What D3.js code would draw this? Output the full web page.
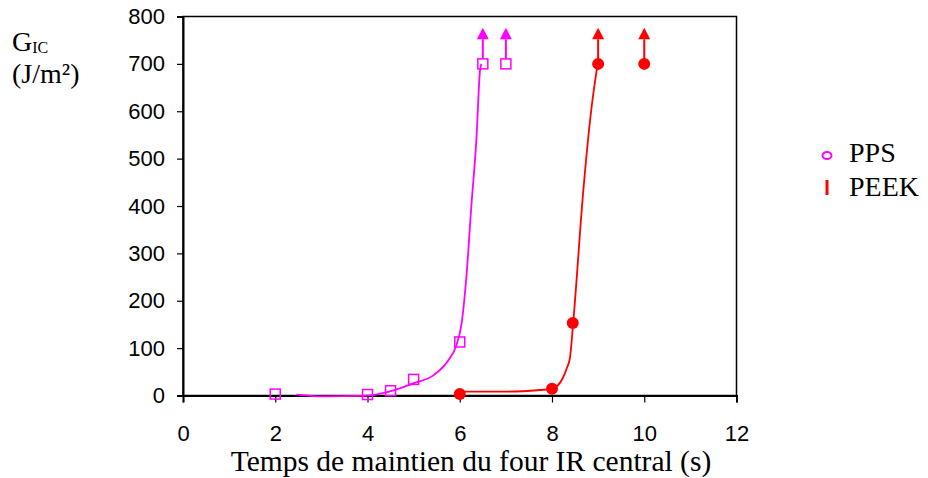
<!DOCTYPE html>
<html><head><meta charset="utf-8">
<script src="https://cdn.jsdelivr.net/npm/d3@7"></script>
<style>body{margin:0;background:#fff}svg{display:block}</style>
</head><body>
<svg id="c" width="928" height="478"></svg>
<script>
// ---- data ----
const xTicks = [0, 2, 4, 6, 8, 10, 12];
const yTicks = [0, 100, 200, 300, 400, 500, 600, 700, 800];
const ppsX = [2, 4, 4.5, 5, 6, 6.5, 7];
const ppsY = [3, 2, 10, 34, 113, 700, 700];
const peekX = [6, 8, 8.45, 9, 10];
const peekY = [3, 14, 153, 700, 700];
const ppsArrowX = [6.5, 7];
const peekArrowX = [9, 10];
const arrowFrom = 700, arrowBase = 752, arrowTip = 776;
const ppsTrendX = [2.46, 3.1, 3.8, 4.12, 4.56, 5.0, 5.42, 5.78, 5.92, 6.04, 6.15, 6.25, 6.36, 6.44, 6.47];
const ppsTrendY = [2, -2, -1, 1, 11, 26, 42, 78, 104, 152, 258, 398, 539, 687, 700];
const peekTrendX = [6, 7, 7.74, 8, 8.24, 8.33, 8.39, 8.46, 8.68, 8.86, 8.99];
const peekTrendY = [8, 8, 11.6, 14, 38, 60, 80, 154, 434, 610, 700];
const seriesNames = ["PPS", "PEEK"];

const MAG = "#ff00ff", RED = "#ff0000";
const svg = d3.select("#c");
const x = d3.scaleLinear().domain([0, 12]).range([183, 736.5]);
const y = d3.scaleLinear().domain([0, 800]).range([395.5, 16.5]);

// frame
svg.append("rect").attr("x", x(0)).attr("y", y(800)).attr("width", x(12) - x(0)).attr("height", y(0) - y(800))
  .attr("fill", "none").attr("stroke", "#000").attr("stroke-width", 1.5);

// axes
const yAxis = svg.append("g").attr("transform", `translate(${x(0)},0)`)
  .call(d3.axisLeft(y).tickValues(yTicks).tickSize(6).tickPadding(12).tickFormat(d3.format("d")));
const xAxis = svg.append("g").attr("transform", `translate(0,${y(0)})`)
  .call(d3.axisBottom(x).tickValues(xTicks).tickSize(7).tickPadding(23).tickFormat(d3.format("d")));
[yAxis, xAxis].forEach(g => {
  g.select(".domain").attr("stroke", "#000").attr("stroke-width", 2);
  g.selectAll(".tick line").attr("stroke", "#000").attr("stroke-width", 1.2);
  g.selectAll("text").attr("font-family", "Liberation Sans, Arial, sans-serif").attr("font-size", 22).attr("fill", "#000");
});

// trend curves
const line = d3.line().x(d => x(d[0])).y(d => y(d[1])).curve(d3.curveMonotoneX);
svg.append("path").datum(ppsTrendX.map((v, i) => [v, ppsTrendY[i]]))
  .attr("d", line).attr("fill", "none").attr("stroke", MAG).attr("stroke-width", 1.8);
svg.append("path").datum(peekTrendX.map((v, i) => [v, peekTrendY[i]]))
  .attr("d", line).attr("fill", "none").attr("stroke", RED).attr("stroke-width", 1.8);

// arrows
function arrows(xs, color, gap) {
  const g = svg.append("g");
  g.selectAll("line").data(xs).join("line")
    .attr("x1", d => x(d)).attr("x2", d => x(d))
    .attr("y1", y(arrowFrom) - gap).attr("y2", y(arrowBase))
    .attr("stroke", color).attr("stroke-width", 2);
  g.selectAll("path").data(xs).join("path")
    .attr("d", d => `M${x(d)},${y(arrowTip)}L${x(d) + 6},${y(arrowBase)}L${x(d) - 6},${y(arrowBase)}Z`)
    .attr("fill", color);
}
arrows(ppsArrowX, MAG, 5);
arrows(peekArrowX, RED, 4);

// markers
svg.append("g").selectAll("rect").data(ppsX.map((v, i) => [v, ppsY[i]])).join("rect")
  .attr("x", d => x(d[0]) - 5).attr("y", d => y(d[1]) - 5).attr("width", 10).attr("height", 10)
  .attr("fill", "#fff").attr("fill-opacity", 0).attr("stroke", MAG).attr("stroke-width", 1.5);
svg.append("g").selectAll("circle").data(peekX.map((v, i) => [v, peekY[i]])).join("circle")
  .attr("cx", d => x(d[0])).attr("cy", d => y(d[1])).attr("r", 6).attr("fill", RED);

// y label
const yl = svg.append("text").attr("x", 12).attr("y", 51).attr("font-family", "Liberation Serif, Times New Roman, serif")
  .attr("font-size", 28).attr("fill", "#000");
yl.append("tspan").text("G");
yl.append("tspan").attr("font-size", 16).attr("dy", 2).text("IC");
svg.append("text").attr("x", 12).attr("y", 83).attr("font-family", "Liberation Serif, Times New Roman, serif")
  .attr("font-size", 28).attr("fill", "#000").text("(J/m²)");

// x title
svg.append("text").attr("x", 471).attr("y", 470.5).attr("text-anchor", "middle")
  .attr("font-family", "Liberation Serif, Times New Roman, serif").attr("font-size", 29.5).attr("fill", "#000")
  .text("Temps de maintien du four IR central (s)");

// legend
const lg = svg.append("g").attr("font-family", "Liberation Serif, Times New Roman, serif").attr("font-size", 28);
lg.append("ellipse").attr("cx", 827).attr("cy", 155.5).attr("rx", 4.5).attr("ry", 3.5)
  .attr("fill", "none").attr("stroke", MAG).attr("stroke-width", 2);
lg.append("rect").attr("x", 825.5).attr("y", 180).attr("width", 3).attr("height", 15).attr("fill", RED);
lg.append("text").attr("x", 849).attr("y", 162).text(seriesNames[0]);
lg.append("text").attr("x", 849).attr("y", 195.5).text(seriesNames[1]);
</script>
</body></html>
